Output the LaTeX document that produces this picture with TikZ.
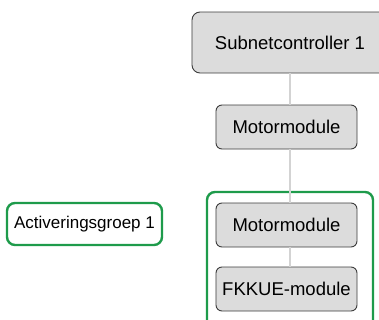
\documentclass[tikz,border=0pt]{standalone}
\usepackage{fontspec}
\setmainfont{Liberation Sans}
\definecolor{boxfill}{HTML}{DCDCDC}
\definecolor{boxline}{HTML}{3C3C3C}
\definecolor{groupgreen}{HTML}{1E9B4B}
\definecolor{linkgray}{HTML}{D3D3D3}
\tikzset{
  module/.style={draw=boxline, line width=0.9bp, fill=boxfill, rounded corners=6bp,
    inner sep=0pt, font=\fontsize{18.5bp}{20bp}\selectfont, text=black},
  group/.style={draw=groupgreen, line width=2.4bp, rounded corners=8bp},
  link/.style={draw=linkgray, line width=2bp},
}
\begin{document}
\begin{tikzpicture}[x=1bp, y=-1bp]
\useasboundingbox (0,0) rectangle (379,320);
\clip (0,0) rectangle (379,320);
% activation group frame
\draw[group] (207,192) rectangle (373,340);
% modules
\node[module, rounded corners=8bp, minimum width=196bp, minimum height=61bp] (sub) at (290,42.5) {Subnetcontroller 1};
\node[module, minimum width=141bp, minimum height=44bp] (m1) at (286.5,127) {Motormodule};
\node[module, minimum width=141bp, minimum height=44bp] (m2) at (286.5,225) {Motormodule};
\node[module, minimum width=141bp, minimum height=44bp] (fk) at (286.5,289) {FKKUE-module};
% group label
\node[group, inner sep=0pt, minimum width=155bp, minimum height=42bp,
  font=\fontsize{17bp}{19bp}\selectfont] (ag) at (84.5,224) {Activeringsgroep 1};
% connectors
\draw[link] (sub.south) -- (sub.south |- m1.north);
\draw[link] (sub.south |- m1.south) -- (sub.south |- m2.north);
\draw[link] (sub.south |- m2.south) -- (sub.south |- fk.north);
\end{tikzpicture}
\end{document}
